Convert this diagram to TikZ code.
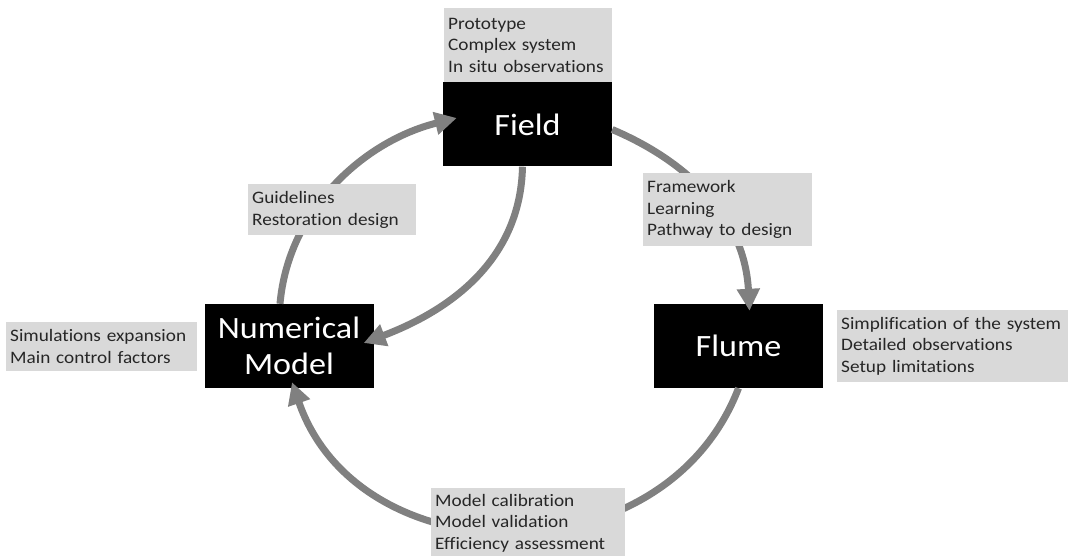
\documentclass[tikz,border=0pt]{standalone}
\usepackage{fontspec}
\setmainfont{Carlito}[FakeStretch=1.1,Ligatures=NoCommon]
\usetikzlibrary{arrows.meta}
\definecolor{labfill}{HTML}{D9D9D9}
\definecolor{labtext}{HTML}{262626}
\definecolor{arrowgray}{HTML}{808080}
\begin{document}
\begin{tikzpicture}[x=1pt,y=1pt,
  stage/.style={fill=black,text=white,minimum width=169pt,minimum height=84pt,inner sep=0pt,align=center,font=\fontsize{31}{36}\selectfont},
  lab/.style={fill=labfill,text=labtext,anchor=north west,inner xsep=4pt,inner ysep=0pt,align=left,font=\fontsize{17.5}{21.5}\selectfont},
  flow/.style={draw=arrowgray,line width=7pt,-{Triangle[length=22pt,width=22pt]}}]
\useasboundingbox (0,0) rectangle (1068,555);
% stages
\node[stage] (field) at (527.5,430.5) {Field};
\node[stage] (num) at (289,209) {Numerical\\Model};
\node[stage] (flume) at (738.5,209) {Flume};
% connectors
\draw[flow] ([yshift=-5pt]field.east) to[out=-23,in=93] ([xshift=11pt,yshift=-7pt]flume.north);
\draw[flow] (flume.south) to[out=-111,in=-71,looseness=1.18] ([xshift=3pt,yshift=6pt]num.south);
\draw[flow] ([xshift=-9pt]num.north) to[out=85,in=194,looseness=0.95] ([xshift=14pt,yshift=6.5pt]field.west);
\draw[flow] ([xshift=-5pt]field.south) .. controls +(-2,-93) and +(87,33) .. ([xshift=-10pt,yshift=3pt]num.east);
% labels
\node[lab,text width=160pt,minimum width=168pt,minimum height=74pt] (fieldlab) at (444,547) {Prototype\\Complex system\\In situ observations};
\node[lab,text width=161pt,minimum width=169pt,minimum height=73pt] (framelab) at (643,382) {Framework\\Learning\\Pathway to design};
\node[lab,text width=223pt,minimum width=231pt,minimum height=72pt] (flumelab) at (837,245) {Simplification of the system\\Detailed observations\\Setup limitations};
\node[lab,text width=160pt,minimum width=168pt,minimum height=51pt] (guidelab) at (248,371) {Guidelines\\Restoration design};
\node[lab,text width=186pt,minimum width=194pt,minimum height=70pt] (modellab) at (431,67) {Model calibration\\Model validation\\Efficiency assessment};
\node[lab,text width=183pt,minimum width=191pt,minimum height=49pt] (simlab) at (6,233) {Simulations expansion\\Main control factors};
\end{tikzpicture}
\end{document}
